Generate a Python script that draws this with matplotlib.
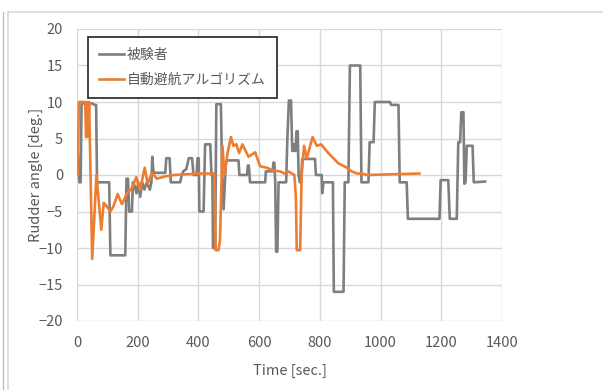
import matplotlib
matplotlib.use("Agg")
import matplotlib.pyplot as plt
from matplotlib.lines import Line2D

plt.rcParams['font.family'] = ['Noto Sans CJK JP', 'DejaVu Sans']

# Subject (被験者) rudder angle
subj_t = [0, 3, 8, 12, 15, 50, 58, 63, 66, 106, 110, 159, 163, 168, 172, 181, 184, 190, 196, 202, 208, 215, 222, 230, 240,
          245, 248, 252, 258, 291, 294, 305, 309, 340, 345, 350, 360, 368, 379, 384, 394, 397, 401, 403, 417, 422, 426, 439,
          443, 446, 448, 455, 459, 461, 474, 478, 483, 490, 494, 505, 532, 535, 560, 563, 566, 570, 573, 620, 622, 645, 647,
          650, 653, 656, 660, 664, 689, 693, 698, 705, 709, 711, 714, 717, 720, 723, 727, 730, 734, 738, 742, 746, 784, 787,
          806, 808, 812, 843, 846, 878, 882, 894, 899, 933, 937, 960, 964, 977, 981, 1031, 1035, 1059, 1063, 1086, 1090, 1194,
          1198, 1223, 1228, 1251, 1256, 1262, 1266, 1273, 1276, 1280, 1284, 1289, 1303, 1307, 1344]
subj_y = [3, 3, -1, -1, 9.8, 9.8, 9.6, 9.6, -1, -1, -11, -11, -0.5, -0.5, -5, -5, -1, -1.5, -2.5, -1, -3, -1, -2, -1, -2,
          -1, 2.5, 0.3, 0.3, 0.3, 2.3, 2.3, -1, -1, 0, 0.5, 0.8, 2.3, 2.3, 0, 0, 2.3, 2.3, -5, -5, 4.2, 4.2, 4.2,
          0, 0, -10, -10, 9.7, 9.7, 9.7, 0, -4.7, 1.5, 2, 2, 2, 0, 0, 1.3, 1.3, -1, -1, -1, 0.5, 0.5, 1.7,
          1.7, -1, -10.5, -10.5, -1, -1, 5, 10.2, 10.2, 3.3, 3.3, 4.2, 3.3, 3.3, 6, 6, 0, -1, -1, 2.2, 2.2, 2.2, 0,
          0, -2.5, -1, -1, -16, -16, -1, -1, 15, 15, -1, -1, 4.5, 4.5, 10, 10, 9.6, 9.6, -1, -1, -6, -6,
          -0.7, -0.7, -6, -6, 4.5, 4.5, 8.6, 8.6, -1.2, -1.0, 4, 4, 4, -1, -0.9]

# Automatic avoidance algorithm (自動避航アルゴリズム)
algo_t = [0, 3, 6, 27, 30, 33, 36, 40, 50, 64, 80, 88, 96, 110, 120, 134, 148, 165, 181, 195, 208, 223, 233, 247, 263,
          290, 320, 360, 400, 440, 452, 457, 466, 471, 479, 486, 496, 507, 515, 525, 534, 545, 565, 587, 603, 625, 647,
          669, 684, 695, 716, 721, 724, 735, 740, 748, 757, 776, 790, 804, 828, 861, 889, 905, 922, 940, 955, 1000, 1128]
algo_y = [0, 0, 10, 10, 5.2, 10, 5.2, 10, -11.5, 0, -7.5, -3.8, -4.2, -5, -4.3, -2.6, -4, -2.5, -1.8, -0.3, -2, 1, -1.2, 0.3, -0.5,
          -0.2, 0, 0.1, 0.2, 0.2, 0.2, -10.3, -10.3, -9, 4, 0, 3, 5.2, 4, 4.2, 3, 4.2, 2.5, 3.1, 1.2, 1, 0.6,
          0.5, 0.2, 0.5, 0, -3, -10.3, -10.3, 0, 4, 2.3, 5.2, 4, 4.2, 3, 1.6, 1, 0.5, 0.2, 0.2, 0, 0.05, 0.2]

x_ticks = [0, 200, 400, 600, 800, 1000, 1200, 1400]
y_ticks = [-20, -15, -10, -5, 0, 5, 10, 15, 20]
labels = ['被験者', '自動避航アルゴリズム']

fig = plt.figure(figsize=(6.03, 3.90), dpi=100)
ax = fig.add_axes([77/603, 1 - 321/390, (502-77)/603, (321-29)/390])

gray = '#7f7f7f'
orange = '#ED7D31'
ax.plot(subj_t, subj_y, color=gray, lw=1.9, label=labels[0], solid_joinstyle='round')
ax.plot(algo_t, algo_y, color=orange, lw=1.9, label=labels[1], solid_joinstyle='round')

ax.set_xlim(0, 1400)
ax.set_ylim(-20, 20)
ax.set_xticks(x_ticks)
ax.set_yticks(y_ticks)
ax.grid(True, color='#d9d9d9', lw=1)
ax.set_axisbelow(True)
for s in ax.spines.values():
    s.set_visible(False)
ax.tick_params(length=0, labelsize=10.5, colors='#595959')
ax.tick_params(axis='x', pad=11)
ax.tick_params(axis='y', pad=10)
ax.set_xlabel('Time [sec.]', fontsize=10.5, color='#595959', labelpad=10)
ax.set_ylabel('Rudder angle [deg.]', fontsize=10.5, color='#595959', labelpad=-3)

leg = ax.legend(loc='upper left', bbox_to_anchor=(11/425, 1 - 8/292), borderaxespad=0,
                fancybox=False, framealpha=1,
                edgecolor='#222222', fontsize=10, handlelength=1.8, borderpad=0.8, labelspacing=0.75,
                handletextpad=0.2)
leg.get_frame().set_linewidth(1.2)
for t in leg.get_texts():
    t.set_color('#595959')

# outer frame decoration
fig.add_artist(Line2D([8/603, 8/603], [0, 1 - 12/390], color='#d9d9d9', lw=1.2, transform=fig.transFigure))
fig.add_artist(Line2D([8/603, 1], [1 - 12/390, 1 - 12/390], color='#d9d9d9', lw=1.2, transform=fig.transFigure))
fig.add_artist(Line2D([3/603, 3/603], [0, 1 - 12/390], color='#bfbfbf', lw=1.0, transform=fig.transFigure))

fig.savefig('out.png', dpi=100)
